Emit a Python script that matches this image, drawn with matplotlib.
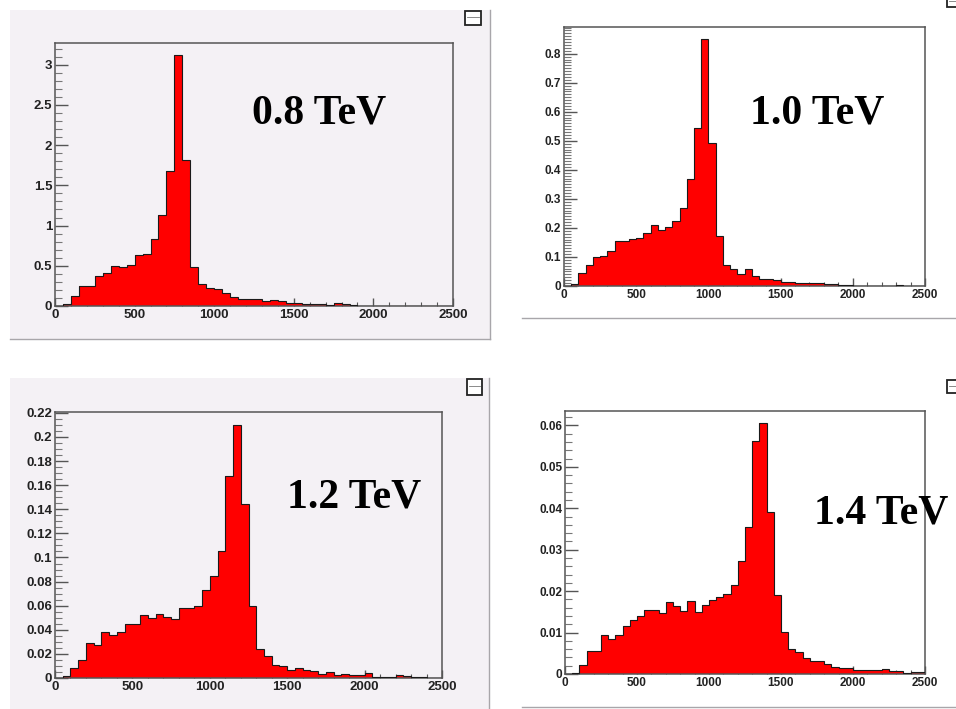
import numpy as np
import matplotlib
matplotlib.use("Agg")
import matplotlib.pyplot as plt
from matplotlib.patches import Rectangle
from matplotlib.lines import Line2D
from matplotlib.ticker import MultipleLocator, FuncFormatter

# Common binning: 50 bins of width 50 GeV from 0 to 2500
bin_edges = np.arange(0, 2501, 50)

# Invariant-mass distributions for four resonance masses
h_08tev = [0.0, 0.03, 0.13, 0.25, 0.25, 0.37, 0.41, 0.50, 0.49, 0.51,
           0.63, 0.65, 0.83, 1.13, 1.68, 3.12, 1.82, 0.49, 0.27, 0.23,
           0.21, 0.165, 0.11, 0.09, 0.083, 0.083, 0.062, 0.075, 0.058, 0.041,
           0.033, 0.02, 0.02, 0.02, 0.017, 0.033, 0.025, 0.012, 0.004, 0.003,
           0.0, 0.0, 0.0, 0.0, 0.0, 0.0, 0.0, 0.0, 0.0, 0.0]

h_10tev = [0.0, 0.007, 0.044, 0.072, 0.099, 0.103, 0.121, 0.155, 0.155, 0.162,
           0.167, 0.181, 0.21, 0.193, 0.202, 0.225, 0.267, 0.368, 0.544, 0.849,
           0.494, 0.173, 0.072, 0.057, 0.041, 0.057, 0.034, 0.023, 0.023, 0.022,
           0.015, 0.015, 0.011, 0.010, 0.010, 0.009, 0.007, 0.008, 0.005, 0.003,
           0.001, 0.001, 0.001, 0.001, 0.001, 0.001, 0.005, 0.001, 0.0, 0.0]

h_12tev = [0.0, 0.002, 0.008, 0.015, 0.029, 0.027, 0.038, 0.036, 0.038, 0.045,
           0.045, 0.052, 0.050, 0.053, 0.051, 0.049, 0.058, 0.058, 0.060, 0.073,
           0.085, 0.105, 0.168, 0.210, 0.144, 0.060, 0.024, 0.018, 0.011, 0.010,
           0.007, 0.008, 0.007, 0.006, 0.0035, 0.0047, 0.0028, 0.0033, 0.0028, 0.0025,
           0.0041, 0.0008, 0.0008, 0.001, 0.0025, 0.0019, 0.0008, 0.0005, 0.0, 0.0]

h_14tev = [0.0, 0.0002, 0.0021, 0.0055, 0.0055, 0.0093, 0.0085, 0.0094, 0.0115, 0.013,
           0.014, 0.0155, 0.0155, 0.0148, 0.0175, 0.0163, 0.0152, 0.0177, 0.0149, 0.0167,
           0.0179, 0.0187, 0.0193, 0.0214, 0.0273, 0.0355, 0.0562, 0.0606, 0.0390, 0.0190,
           0.0102, 0.0060, 0.0054, 0.0038, 0.0031, 0.0032, 0.0023, 0.0018, 0.0014, 0.0015,
           0.0010, 0.0009, 0.0009, 0.0009, 0.0011, 0.0007, 0.0007, 0.0002, 0.0004, 0.0006]

labels = ["0.8 TeV", "1.0 TeV", "1.2 TeV", "1.4 TeV"]

W, H = 956, 709
fig = plt.figure(figsize=(W / 100, H / 100), dpi=100)
fig.patch.set_facecolor("white")

PAD_BG = "#f4f1f5"
EDGE = "#a8a6aa"


def fx(x):
    return x / W


def fy(y):
    return 1 - y / H


def add_rect(l, t, r, b, **kw):
    fig.patches.append(Rectangle((fx(l), fy(b)), (r - l) / W, (b - t) / H,
                                 transform=fig.transFigure, **kw))


def add_line(xs, ys, **kw):
    fig.lines.append(Line2D([fx(x) for x in xs], [fy(y) for y in ys],
                            transform=fig.transFigure, **kw))


def icon(l, t, r, b):
    add_rect(l, t, r, b, facecolor="white", edgecolor="#222222", lw=1.3, zorder=5)
    add_line([l + 2, r - 2], [t + (b - t) * 0.45] * 2, color="#777777", lw=0.6, zorder=6)


# Canvas backgrounds of the left pads
add_rect(10, 10, 490, 339, facecolor=PAD_BG, edgecolor="none", zorder=-2)
add_line([490, 490], [10, 339], color=EDGE, lw=1.0, zorder=-1)
add_line([10, 490], [339, 339], color=EDGE, lw=1.0, zorder=-1)
add_rect(10, 378, 489, 709, facecolor=PAD_BG, edgecolor="none", zorder=-2)
add_line([489, 489], [378, 709], color=EDGE, lw=1.0, zorder=-1)
# separators under the right pads
add_line([522, 956], [318, 318], color=EDGE, lw=1.0, zorder=-1)
add_line([522, 956], [707, 707], color=EDGE, lw=1.0, zorder=-1)

icon(465, 11, 481, 25)
icon(467, 379, 482, 395)
icon(947, -4, 962, 7)
icon(947, 380, 962, 393)


def fmt(v, pos):
    return f"{round(v, 6):g}"


panels = [
    # data, (left, top, right, bottom) in px, ymax, major, minor, facecolor,
    # label position, tick-label size
    (h_08tev, (55, 43, 453, 306), 3.27, 0.5, 0.1, PAD_BG, (252, 124), 9.5),
    (h_10tev, (564, 27, 925, 286), 0.892, 0.1, 0.01, "white", (750, 124), 8.5),
    (h_12tev, (55, 412, 442, 678), 0.2207, 0.02, 0.005, PAD_BG, (287, 508), 9.5),
    (h_14tev, (565, 411, 925, 674), 0.0635, 0.01, 0.002, "white", (814, 524), 8.5),
]

for (vals, (l, t, r, b), ymax, maj, mnr, fc, (tx, ty), tsz), lab in zip(panels, labels):
    ax = fig.add_axes([fx(l), fy(b), (r - l) / W, (b - t) / H])
    ax.set_facecolor(fc)
    ax.stairs(vals, bin_edges, fill=True, color="#ff0000", zorder=2)
    ax.stairs(vals, bin_edges, fill=False, color="#1a1a1a", lw=0.8, zorder=3)
    ax.set_xlim(0, 2500)
    ax.set_ylim(0, ymax)
    for s in ax.spines.values():
        s.set_color("#555555")
        s.set_linewidth(1.1)
    ax.xaxis.set_major_locator(MultipleLocator(500))
    ax.xaxis.set_minor_locator(MultipleLocator(100))
    ax.yaxis.set_major_locator(MultipleLocator(maj))
    ax.yaxis.set_minor_locator(MultipleLocator(mnr))
    ax.xaxis.set_major_formatter(FuncFormatter(fmt))
    ax.yaxis.set_major_formatter(FuncFormatter(fmt))
    ax.tick_params(axis="x", which="major", direction="in", length=6, width=1.0,
                   color="#555555", pad=2.5)
    ax.tick_params(axis="x", which="minor", direction="in", length=3, width=0.8,
                   color="#555555")
    ax.tick_params(axis="y", which="major", direction="in", length=9, width=1.0,
                   color="#555555", pad=2)
    ax.tick_params(axis="y", which="minor", direction="in", length=5, width=0.8,
                   color="#777777")
    for tl in ax.get_xticklabels() + ax.get_yticklabels():
        tl.set_fontfamily("Liberation Sans")
        tl.set_fontweight("bold")
        tl.set_fontsize(tsz)
        tl.set_color("#222222")
    fig.text(fx(tx), fy(ty), lab, ha="left", va="baseline",
             fontfamily="Liberation Serif", fontweight="bold", fontsize=30,
             color="black", zorder=10)

fig.savefig("out.png", dpi=100, facecolor="white")
